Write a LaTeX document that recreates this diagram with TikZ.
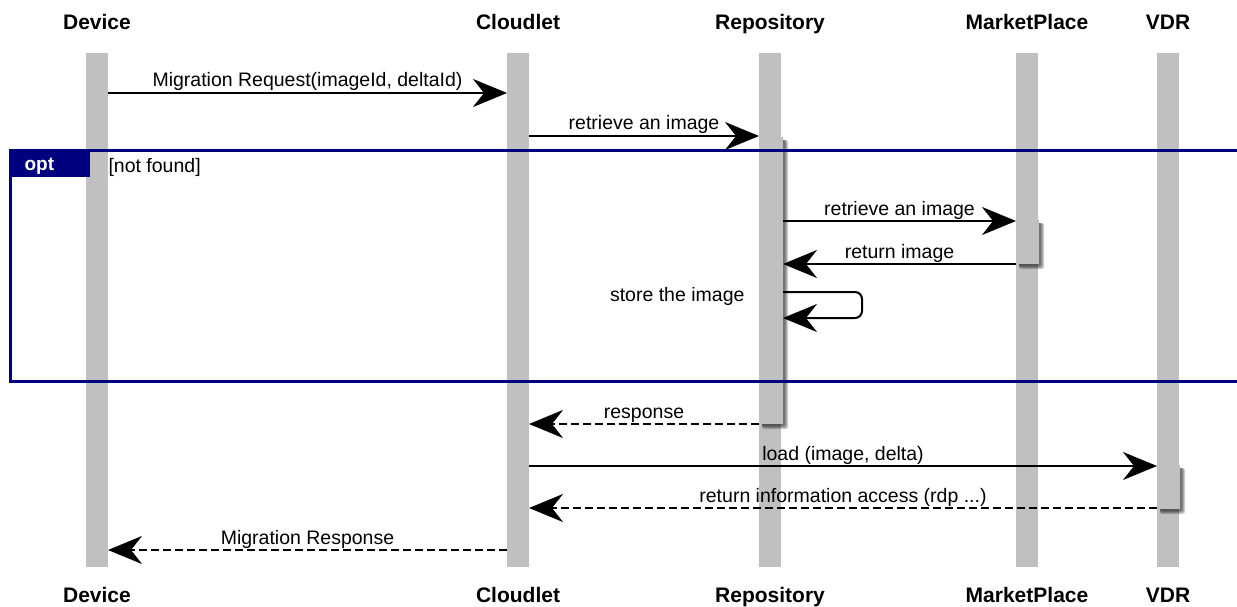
\documentclass[tikz,border=0pt]{standalone}
\usepackage{fontspec}
\setmainfont{Liberation Sans}
\usetikzlibrary{arrows.meta}
\definecolor{life}{HTML}{C0C0C0}
\definecolor{navy}{HTML}{00007F}
\tikzset{
  lifeline/.style={fill=life, draw=none},
  actbox/.style={fill=life, draw=none, inner sep=0pt, anchor=north west},
  shadowlayer/.style={fill=black, draw=none, fill opacity=0.18, rounded corners=2pt},
  head/.style={font=\fontsize{21}{24}\selectfont\bfseries, anchor=base},
  lbl/.style={font=\fontsize{19.5}{22}\selectfont, anchor=base},
  msg/.style={line width=2pt, -{Stealth[length=34pt,width=28pt,inset=11pt]}},
  reply/.style={msg, dash pattern=on 8pt off 4pt},
  frame/.style={draw=navy, line width=3pt},
}
\newcommand{\actshadow}[4]{% x1 y1 x2 y2
  \fill[shadowlayer] (#1+3,#2+3) rectangle (#3+5,#4+5);
  \fill[shadowlayer] (#1+3,#2+3) rectangle (#3+4,#4+4);
  \fill[shadowlayer] (#1+3,#2+3) rectangle (#3+3,#4+3);
  \fill[shadowlayer] (#1+3,#2+3) rectangle (#3+2,#4+2);
}
\begin{document}
\begin{tikzpicture}[x=1pt,y=-1pt]
\useasboundingbox (0,0) rectangle (1237,607);
% lifelines
\fill[lifeline] (86,53) rectangle (108,567);
\fill[lifeline] (507,53) rectangle (529,567);
\fill[lifeline] (759,53) rectangle (781,567);
\fill[lifeline] (1016,53) rectangle (1038,567);
\fill[lifeline] (1157,53) rectangle (1179,567);
% activations
\actshadow{759}{137}{783}{424}
\actshadow{1016}{220}{1039}{264}
\actshadow{1157}{465}{1180}{509}
\node[actbox, minimum width=24pt, minimum height=287pt] (actR) at (759,137) {};
\node[actbox, minimum width=23pt, minimum height=44pt] (actM) at (1016,220) {};
\node[actbox, minimum width=23pt, minimum height=44pt] (actV) at (1157,465) {};
% headers
\foreach \n/\x/\t in {hd/97/Device, hc/518/Cloudlet, hr/770/Repository, hm/1027/MarketPlace, hv/1168/VDR}{
  \node[head] (\n t) at (\x,30) {\t};
  \node[head] (\n b) at (\x,602) {\t};
}
% opt frame
\draw[frame] (10,151) rectangle (1245,381);
\fill[navy] (10,151) rectangle (90,177);
\node[font=\fontsize{19}{22}\selectfont\bfseries, text=white, anchor=base west] (optl) at (21,171) {opt};
\node[lbl, anchor=base west] (cond) at (105,172) {[not found]};
% message endpoints
\coordinate (m1s) at (108,93);  \coordinate (m1e) at (507,93);
\coordinate (m2s) at (529,136); \coordinate (m2e) at (759,136);
\coordinate (m3s) at (783,221); \coordinate (m3e) at (1016,221);
\coordinate (m4s) at (1016,264); \coordinate (m4e) at (783,264);
\coordinate (m5s) at (783,292); \coordinate (m5a) at (862,292); \coordinate (m5b) at (862,318); \coordinate (m5e) at (783,318);
\coordinate (m6s) at (759,424); \coordinate (m6e) at (529,424);
\coordinate (m7s) at (529,466); \coordinate (m7e) at (1157,466);
\coordinate (m8s) at (1157,508); \coordinate (m8e) at (529,508);
\coordinate (m9s) at (507,550); \coordinate (m9e) at (108,550);
% messages
\draw[msg] (m1s) -- (m1e) node[lbl, midway, yshift=6pt] (l1) {Migration Request(imageId, deltaId)};
\draw[msg] (m2s) -- (m2e) node[lbl, midway, yshift=6pt] (l2) {retrieve an image};
\draw[msg] (m3s) -- (m3e) node[lbl, midway, yshift=6pt] (l3) {retrieve an image};
\draw[msg] (m4s) -- (m4e) node[lbl, midway, yshift=6pt] (l4) {return image};
\draw[msg, rounded corners=7pt] (m5s) -- (m5a) -- (m5b) -- (m5e);
\node[lbl, anchor=base east] (l5) at (748,301) {store the image};
\draw[reply] (m6s) -- (m6e) node[lbl, midway, yshift=6pt] (l6) {response};
\draw[msg] (m7s) -- (m7e) node[lbl, midway, yshift=6pt] (l7) {load (image, delta)};
\draw[reply] (m8s) -- (m8e) node[lbl, midway, yshift=6pt] (l8) {return information access (rdp ...)};
\draw[reply] (m9s) -- (m9e) node[lbl, midway, yshift=6pt] (l9) {Migration Response};
\end{tikzpicture}
\end{document}
